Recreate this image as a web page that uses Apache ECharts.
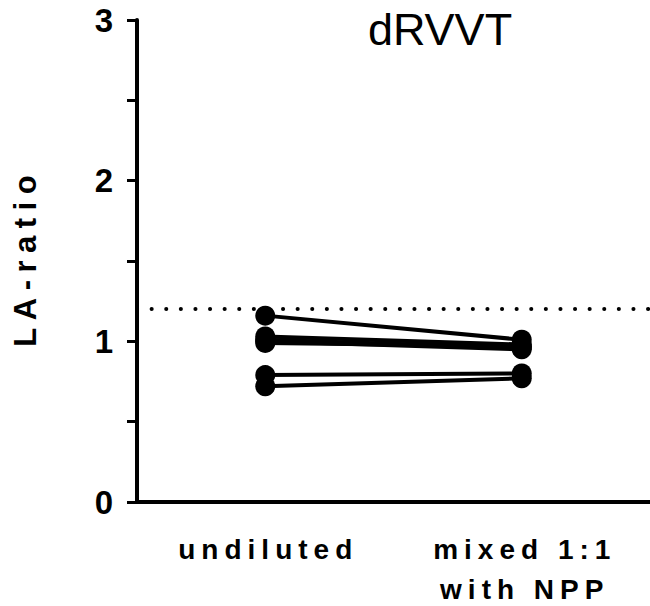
<!DOCTYPE html>
<html>
<head>
<meta charset="utf-8">
<script src="https://cdn.jsdelivr.net/npm/echarts@6/dist/echarts.min.js"></script>
<style>
html,body{margin:0;padding:0;background:#fff;}
#chart{width:650px;height:606px;}
</style>
</head>
<body>
<div id="chart"></div>
<script>
// ---- data ----
const categories = ['undiluted', 'mixed 1:1\nwith NPP'];
const undilutedValues = [1.16, 1.03, 1.01, 1.00, 0.99, 0.79, 0.72];
const mixedValues     = [1.01, 0.98, 0.96, 0.95, 0.97, 0.80, 0.77];
const cutoffValue = 1.2;
const chartTitle = 'dRVVT';
const yAxisName = 'LA-ratio';

// ---- build ----
const FONT = 'Liberation Sans, Arial, Helvetica, sans-serif';
const series = undilutedValues.map((v, i) => ({
  type: 'line',
  data: [v, mixedValues[i]],
  symbol: 'circle',
  symbolSize: 20,
  lineStyle: { color: '#000', width: 4 },
  itemStyle: { color: '#000' },
  silent: true,
  z: 3
}));
series.push({
  type: 'line',
  data: [],
  silent: true,
  markLine: {
    silent: true,
    symbol: 'none',
    label: { show: false },
    lineStyle: { color: '#000', width: 4, type: [0.1, 14.5], cap: 'round' },
    data: [{ yAxis: cutoffValue }]
  }
});

const labelBase = { fontFamily: FONT, fontSize: 28, fontWeight: 'bold', color: '#000' };

const chart = echarts.init(document.getElementById('chart'), null, { renderer: 'svg' });
chart.setOption({
  animation: false,
  backgroundColor: '#fff',
  title: {
    text: chartTitle,
    left: 440,
    top: 7,
    padding: 0,
    textAlign: 'center',
    textStyle: { fontFamily: FONT, fontSize: 45, fontWeight: 'normal', color: '#000' }
  },
  grid: { left: 137, right: 0, top: 20, bottom: 104, containLabel: false, outerBoundsMode: 'none' },
  xAxis: {
    type: 'category',
    data: categories,
    boundaryGap: true,
    axisLine: { show: true, lineStyle: { color: '#000', width: 4 } },
    axisTick: { show: false },
    axisLabel: {
      interval: 0,
      margin: 19,
      formatter: function (v) {
        const lines = v.split('\n');
        return lines.map((l, k) => (k === 0 ? '{a|' : '{b|') + l + '}').join('\n');
      },
      rich: {
        a: Object.assign({ lineHeight: 56 }, labelBase),
        b: Object.assign({ lineHeight: 24 }, labelBase)
      }
    },
    splitLine: { show: false }
  },
  yAxis: {
    type: 'value',
    min: 0,
    max: 3,
    interval: 1,
    name: yAxisName,
    nameLocation: 'middle',
    nameGap: 96,
    nameRotate: 90,
    nameTextStyle: { fontFamily: FONT, fontSize: 31, fontWeight: 'bold', color: '#000' },
    axisLine: { show: true, lineStyle: { color: '#000', width: 4 } },
    axisTick: { show: true, length: 10, lineStyle: { color: '#000', width: 3 } },
    minorTick: { show: true, splitNumber: 2, length: 10, lineStyle: { color: '#000', width: 3 } },
    axisLabel: {
      margin: 24,
      fontFamily: FONT,
      fontSize: 33,
      fontWeight: 'bold',
      color: '#000'
    },
    splitLine: { show: false },
    minorSplitLine: { show: false }
  },
  series: series
});

// letter spacing for the spaced-out labels (as in the reference)
const spaced = { 'undiluted': 6, 'mixed 1:1': 6, 'with NPP': 6, 'LA-ratio': 7.5 };
function applySpacing() {
  document.querySelectorAll('#chart text').forEach(t => {
    const ls = spaced[t.textContent];
    if (ls) {
      t.style.letterSpacing = ls + 'px';
      t.setAttribute('dx', ls / 2);
    }
  });
}
applySpacing();
chart.on('finished', applySpacing);
</script>
</body>
</html>
